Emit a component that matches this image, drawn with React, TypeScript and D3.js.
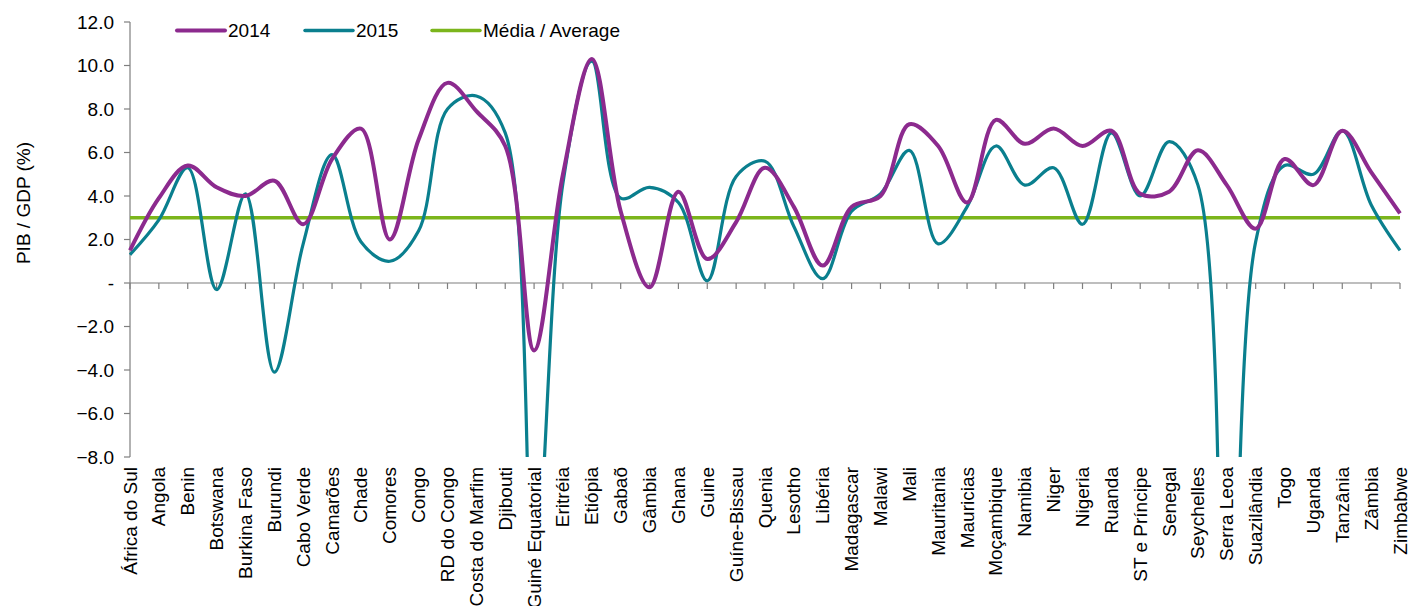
import React from "react";
import * as d3 from "d3";

const categories = [
  "África do Sul", "Angola", "Benin", "Botswana", "Burkina Faso", "Burundi", "Cabo Verde",
  "Camarões", "Chade", "Comores", "Congo", "RD do Congo", "Costa do Marfim", "Djibouti",
  "Guiné Equatorial", "Eritréia", "Etiópia", "Gabaõ", "Gâmbia", "Ghana", "Guine",
  "Guíne-Bissau", "Quenia", "Lesotho", "Libéria", "Madagascar", "Malawi", "Mali",
  "Mauritania", "Mauricias", "Moçambique", "Namibia", "Niger", "Nigeria", "Ruanda",
  "ST e Príncipe", "Senegal", "Seychelles", "Serra Leoa", "Suazilândia", "Togo", "Uganda",
  "Tanzânia", "Zâmbia", "Zimbabwe",
];

const values2014 = [
  1.5, 3.9, 5.4, 4.4, 4.0, 4.7, 2.7, 5.7, 7.1, 2.0, 6.6, 9.2, 7.9, 6.3,
  -3.1, 5.0, 10.3, 3.3, -0.2, 4.2, 1.1, 2.8, 5.3, 3.5, 0.8, 3.5, 4.0, 7.3,
  6.3, 3.7, 7.5, 6.4, 7.1, 6.3, 7.0, 4.1, 4.2, 6.1, 4.5, 2.5, 5.7, 4.5,
  7.0, 5.1, 3.2,
];

const values2015 = [
  1.3, 2.9, 5.3, -0.3, 4.1, -4.1, 1.8, 5.9, 1.9, 1.0, 2.4, 8.0, 8.6, 6.9,
  -13.5, 4.6, 10.2, 3.9, 4.4, 3.7, 0.1, 4.9, 5.6, 2.6, 0.2, 3.3, 4.1, 6.1,
  1.8, 3.5, 6.3, 4.5, 5.3, 2.7, 6.9, 4.0, 6.5, 4.5, -26.0, 1.9, 5.4, 5.0,
  7.0, 3.6, 1.5,
];

const averageValue = 3.0;

const yTicks = [12, 10, 8, 6, 4, 2, 0, -2, -4, -6, -8];

const seriesNames = ["2014", "2015", "Média / Average"];

const W = 1409;
const H = 606;
const left = 130;
const right = 1400;
const top = 22;
const bottom = 457;

const colors = {
  c2014: "#8C2A8E",
  c2015: "#0A7F8E",
  avg: "#7BB51C",
};

const font = "Arial, 'Liberation Sans', sans-serif";
const fs = 19;

export default function App() {
  const x = d3.scalePoint<string>().domain(categories).range([left, right]);
  const y = d3.scaleLinear().domain([-8, 12]).range([bottom, top]);

  const line = d3
    .line<number>()
    .x((_, i) => x(categories[i]) as number)
    .y((d) => y(d))
    .curve(d3.curveCatmullRom.alpha(0.5));

  const fmt = (v: number) => (v === 0 ? "-" : d3.format(".1f")(v));

  const legendItems = [
    { name: seriesNames[0], color: colors.c2014, x1: 177, w: 4 },
    { name: seriesNames[1], color: colors.c2015, x1: 305, w: 3.5 },
    { name: seriesNames[2], color: colors.avg, x1: 432, w: 3.5 },
  ];

  return (
    <svg
      width={W}
      height={H}
      style={{ position: "absolute", left: 0, top: 0, background: "#fff" }}
      fontFamily={font}
    >
      <defs>
        <clipPath id="plotClip">
          <rect x={left - 5} y={top - 5} width={right - left + 10} height={bottom - top + 5} />
        </clipPath>
      </defs>

      {/* Y axis */}
      <line x1={left} x2={left} y1={top} y2={bottom} stroke="#7f7f7f" strokeWidth={1.2} />
      {yTicks.map((t) => (
        <g key={t}>
          <line x1={left - 6} x2={left} y1={y(t)} y2={y(t)} stroke="#7f7f7f" strokeWidth={1.2} />
          <text
            x={left - 16}
            y={y(t)}
            textAnchor="end"
            dominantBaseline="central"
            fontSize={fs}
            fill="#000"
          >
            {fmt(t)}
          </text>
        </g>
      ))}

      {/* Y title */}
      <text
        transform={`translate(30, 203) rotate(-90)`}
        textAnchor="middle"
        fontSize={fs}
        fill="#000"
      >
        PIB / GDP (%)
      </text>

      {/* X axis at zero */}
      <line x1={left} x2={right} y1={y(0)} y2={y(0)} stroke="#7f7f7f" strokeWidth={1.2} />
      {categories.map((c) => (
        <line
          key={c}
          x1={x(c)}
          x2={x(c)}
          y1={y(0)}
          y2={y(0) + 6}
          stroke="#7f7f7f"
          strokeWidth={1.2}
        />
      ))}

      {/* Category labels */}
      {categories.map((c) => (
        <text
          key={c}
          transform={`translate(${(x(c) as number) + 6.5}, ${bottom + 10}) rotate(-90)`}
          textAnchor="end"
          fontSize={fs}
          fill="#000"
        >
          {c}
        </text>
      ))}

      {/* Lines */}
      <g clipPath="url(#plotClip)">
        <line
          x1={left}
          x2={right}
          y1={y(averageValue)}
          y2={y(averageValue)}
          stroke={colors.avg}
          strokeWidth={3.5}
        />
        <path d={line(values2015) || ""} fill="none" stroke={colors.c2015} strokeWidth={3.2} />
        <path d={line(values2014) || ""} fill="none" stroke={colors.c2014} strokeWidth={4} />
      </g>

      {/* Legend */}
      {legendItems.map((item) => (
        <g key={item.name}>
          <line
            x1={item.x1}
            x2={item.x1 + 48}
            y1={30.5}
            y2={30.5}
            stroke={item.color}
            strokeWidth={item.w}
            strokeLinecap="round"
          />
          <text x={item.x1 + 51} y={30.5} dominantBaseline="central" fontSize={fs} fill="#000">
            {item.name}
          </text>
        </g>
      ))}
    </svg>
  );
}
